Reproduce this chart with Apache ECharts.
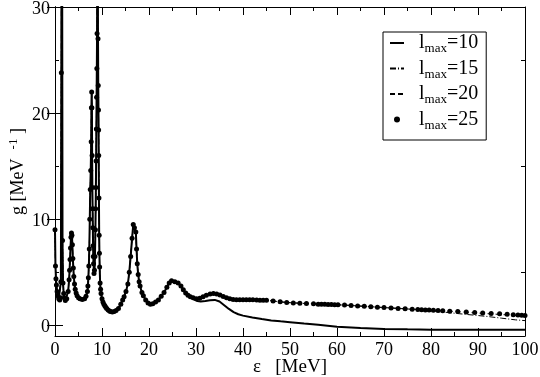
<!DOCTYPE html>
<html>
<head>
<meta charset="utf-8">
<script src="https://cdn.jsdelivr.net/npm/echarts@6/dist/echarts.min.js"></script>
<style>
  html, body { margin: 0; padding: 0; background: #fff; }
  #chart { width: 540px; height: 377px; }
</style>
</head>
<body>
<div id="chart"></div>
<script>
// low energy part, all l_max curves agree here  [eps MeV, g]
const shared = [
  [0, 9.0], [0.1, 5.6], [0.2, 4.4], [0.3, 3.8], [0.45, 3.2], [0.6, 2.8], [0.8, 2.5], [1.0, 2.4],
  [1.15, 2.6], [1.25, 4.1], [1.35, 23.8], [1.45, 60], [1.52, 35], [1.6, 8], [1.7, 4.0], [1.85, 3.0],
  [2.0, 2.6], [2.2, 2.35], [2.5, 2.5], [2.8, 3.2], [3.0, 4.3], [3.1, 5.2], [3.2, 6.2], [3.3, 7.3],
  [3.4, 8.3], [3.5, 8.7], [3.6, 8.5], [3.7, 7.6], [3.8, 6.3], [3.9, 5.4], [4.0, 4.6], [4.15, 3.9],
  [4.3, 3.4], [4.5, 3.05], [4.7, 2.8], [5.0, 2.6], [5.3, 2.5], [5.8, 2.45], [6.3, 2.5], [6.6, 2.75],
  [6.9, 3.2], [7.0, 3.7], [7.1, 4.5], [7.2, 5.6], [7.3, 7.2], [7.4, 10.0], [7.5, 12.8], [7.6, 14.6],
  [7.7, 17.3], [7.75, 20.5], [7.8, 22.0], [7.85, 20.5], [7.9, 16.0], [7.95, 13.0], [8.0, 11.0], [8.05, 9.2],
  [8.1, 7.5], [8.15, 6.5], [8.2, 5.8], [8.3, 4.9], [8.4, 5.2], [8.5, 6.5], [8.6, 9.0], [8.65, 11.0],
  [8.7, 13.0], [8.75, 15.5], [8.8, 18.5], [8.85, 21.5], [8.9, 24.2], [8.95, 27.5], [9.0, 34], [9.05, 40],
  [9.1, 33], [9.15, 27], [9.2, 22.6], [9.25, 20.3], [9.28, 18.4], [9.3, 16.0], [9.35, 12.0], [9.4, 8.5],
  [9.45, 6.8], [9.5, 5.5], [9.6, 4.0], [9.7, 3.4], [9.8, 3.0], [10.0, 2.5], [10.2, 2.2], [10.4, 2.0],
  [10.6, 1.85], [10.8, 1.7], [11.0, 1.6], [11.3, 1.45], [11.6, 1.35], [11.8, 1.3], [12.2, 1.25], [12.6, 1.3],
  [13.0, 1.4], [13.5, 1.6], [14.0, 2.0], [14.4, 2.4], [14.7, 2.7], [15.1, 3.2], [15.5, 3.9], [15.8, 5.0],
  [16.1, 6.5], [16.4, 8.2], [16.65, 9.5], [16.9, 9.2], [17.2, 8.8], [17.35, 7.2], [17.5, 5.8], [17.7, 4.8],
  [17.9, 4.1], [18.1, 3.7], [18.5, 3.1], [18.8, 2.8], [19.3, 2.4], [19.8, 2.1], [20.3, 2.0], [20.8, 2.05],
  [21.4, 2.2], [22.0, 2.4], [22.6, 2.75], [23.2, 3.1], [23.8, 3.6], [24.3, 4.0], [24.8, 4.2], [25.5, 4.1],
  [26.2, 4.0], [26.8, 3.7], [27.3, 3.35], [27.8, 3.05], [28.3, 2.85], [28.8, 2.7]
];

// l_max = 10 above 29 MeV
const tail10 = [
  [29.5, 2.45], [30.3, 2.3], [31.0, 2.26], [32.0, 2.3], [33.0, 2.37], [34.0, 2.4], [35.0, 2.25],
  [36.0, 1.9], [37.0, 1.55], [38.0, 1.25], [39.0, 1.05], [40.0, 0.92], [42.0, 0.74], [44.0, 0.6],
  [46.0, 0.47], [48.0, 0.38], [50.0, 0.3], [53.0, 0.17], [56.0, 0.05], [60.0, -0.12], [65.0, -0.25],
  [70.0, -0.33], [75.0, -0.37], [80.0, -0.4], [90.0, -0.41], [100, -0.41]
];

// l_max = 25 above 29 MeV (dots)
const tail25 = [
  [29.4, 2.6], [30.1, 2.5], [30.8, 2.55], [31.5, 2.7], [32.2, 2.85], [33.0, 2.95], [33.7, 3.0],
  [34.4, 2.95], [35.1, 2.86], [35.8, 2.72], [36.5, 2.6], [37.2, 2.5], [37.9, 2.45], [38.6, 2.42],
  [39.3, 2.42], [40.0, 2.42], [40.7, 2.42], [41.4, 2.41], [42.1, 2.41], [42.9, 2.4], [43.6, 2.38],
  [44.3, 2.37], [45.0, 2.36], [46.4, 2.3], [47.9, 2.22], [49.3, 2.16], [50.7, 2.12], [52.1, 2.09],
  [53.5, 2.06], [55.0, 2.03], [56.0, 2.0], [56.7, 1.99], [57.4, 1.98], [58.1, 1.97], [58.8, 1.96],
  [59.5, 1.95], [60.2, 1.94], [61.6, 1.91], [63.0, 1.88], [64.4, 1.83], [65.8, 1.8], [67.2, 1.76],
  [68.6, 1.72], [70.0, 1.68], [71.5, 1.64], [73.0, 1.6], [74.5, 1.56], [76.0, 1.52], [77.2, 1.5],
  [78.0, 1.48], [78.8, 1.46], [79.6, 1.44], [80.5, 1.42], [81.5, 1.4], [82.5, 1.38], [84.0, 1.34],
  [85.7, 1.3], [87.5, 1.26], [89.3, 1.21], [91.0, 1.17], [92.8, 1.13], [94.6, 1.1], [96.2, 1.05],
  [97.5, 1.0], [98.5, 0.97], [99.3, 0.95], [100, 0.93]
];

// l_max = 15 and 20 follow the dots, then part from them at high energy
const end15 = [[77.0, 1.5], [80.0, 1.38], [83.0, 1.24], [86.0, 1.1], [89.0, 0.97], [92.0, 0.84], [95.0, 0.68], [98.0, 0.52], [100, 0.45]];
const end20 = [[86.0, 1.28], [90.0, 1.16], [95.0, 1.02], [100, 0.88]];

const xTicks = { min: 0, max: 100, step: 10 };
const yMajor = [0, 10, 20, 30];
const yMinor = [5, 15, 25];

const data10 = shared.concat(tail10);
const data25 = shared.concat(tail25);
const data15 = shared.concat(tail25.filter(p => p[0] < 76), end15);
const data20 = shared.concat(tail25.filter(p => p[0] < 85), end20);

const FONT = 'Liberation Serif';

function yAx(pos, ticks, len, labels) {
  return {
    type: 'value', min: -1, max: 30, position: pos,
    axisLine: { show: true, lineStyle: { color: '#000', width: 1 } },
    splitLine: { show: false },
    axisTick: { show: true, inside: true, length: len, customValues: ticks, lineStyle: { color: '#000' } },
    axisLabel: labels ? {
      show: true, customValues: ticks, fontFamily: FONT, fontSize: 18, color: '#000', margin: 5,
      verticalAlign: 'top', lineHeight: 4
    } : { show: false }
  };
}

function xAx(pos, labels) {
  return {
    type: 'value', min: xTicks.min, max: xTicks.max, interval: xTicks.step, position: pos,
    axisLine: { show: true, onZero: false, lineStyle: { color: '#000', width: 1 } },
    splitLine: { show: false },
    axisTick: { show: true, inside: true, length: 8, lineStyle: { color: '#000' } },
    minorTick: { show: true, splitNumber: 2, length: 4, lineStyle: { color: '#000' } },
    axisLabel: labels ? { show: true, fontFamily: FONT, fontSize: 18, color: '#000', margin: 5 } : { show: false }
  };
}

const left = yAx('left', yMajor, 8, true);
left.name = '{n|g [MeV  }{sup|-1}{n| ]}';
left.nameLocation = 'middle';
left.nameGap = 26;
left.nameMoveOverlap = false;
left.nameTextStyle = {
  rich: {
    n: { fontFamily: FONT, fontSize: 18, color: '#000', lineHeight: 22 },
    sup: { fontFamily: FONT, fontSize: 13, color: '#000', verticalAlign: 'top', lineHeight: 10 }
  }
};

const bottom = xAx('bottom', true);
bottom.name = 'ε   [MeV]';
bottom.nameLocation = 'middle';
bottom.nameGap = 22;
bottom.nameMoveOverlap = false;
bottom.nameTextStyle = { fontFamily: FONT, fontSize: 19, color: '#000' };

const noMark = { color: 'rgba(0,0,0,0)', borderColor: 'rgba(0,0,0,0)', borderWidth: 0 };

const chart = echarts.init(document.getElementById('chart'));
chart.setOption({
  backgroundColor: '#fff',
  animation: false,
  grid: { left: 55, right: 15, top: 7, bottom: 41, containLabel: false, outerBoundsMode: 'none' },
  xAxis: [bottom, xAx('top', false)],
  yAxis: [left, yAx('right', yMajor, 8, false), yAx('right', yMinor, 4, false), yAx('left', yMinor, 4, false)],
  legend: {
    orient: 'vertical',
    left: 383, top: 32,
    padding: [1, 8, 8, 6],
    itemGap: 3,
    itemWidth: 14,
    itemHeight: 6,
    borderColor: '#000',
    borderWidth: 1,
    selectedMode: false,
    formatter: name => '{l|l}{s|max}{l|' + name.slice(4) + '}',
    textStyle: {
      padding: [0, 0, 0, 10],
      rich: {
        l: { fontFamily: FONT, fontSize: 20, color: '#000', lineHeight: 25 },
        s: { fontFamily: FONT, fontSize: 13, color: '#000', verticalAlign: 'bottom', lineHeight: 10 }
      }
    },
    data: [
      { name: 'lmax=10', itemStyle: noMark },
      { name: 'lmax=15', itemStyle: noMark },
      { name: 'lmax=20', itemStyle: noMark },
      { name: 'lmax=25' }
    ]
  },
  series: [
    {
      name: 'lmax=10', type: 'line', data: data10, symbol: 'none', clip: true,
      lineStyle: { color: '#000', width: 2 }, itemStyle: { color: '#000' }
    },
    {
      name: 'lmax=15', type: 'line', data: data15, symbol: 'none', clip: true,
      lineStyle: { color: '#000', width: 1, type: [6, 2, 1, 2] }, itemStyle: { color: '#000' }
    },
    {
      name: 'lmax=20', type: 'line', data: data20, symbol: 'none', clip: true,
      lineStyle: { color: '#000', width: 1, type: [5, 3] }, itemStyle: { color: '#000' }
    },
    {
      name: 'lmax=25', type: 'scatter', data: data25, symbol: 'circle', symbolSize: 5, clip: true,
      itemStyle: { color: '#000', opacity: 1 }
    }
  ]
});
</script>
</body>
</html>
